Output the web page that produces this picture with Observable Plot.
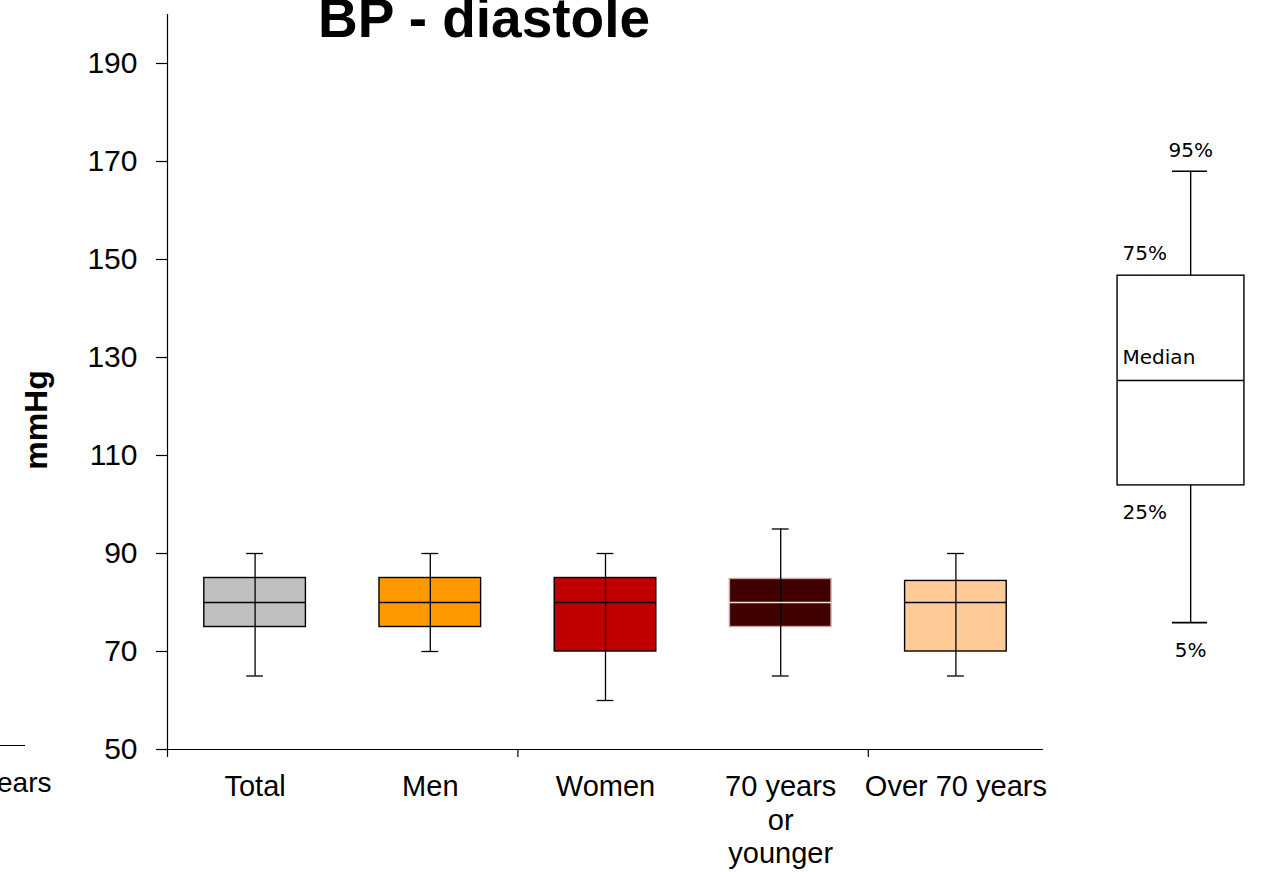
<!DOCTYPE html>
<html><head><meta charset="utf-8">
<script src="https://cdn.jsdelivr.net/npm/d3@7"></script>
<script src="https://cdn.jsdelivr.net/npm/@observablehq/plot@0.6"></script>
<style>
body{margin:0;background:#fff;}
#wrap{position:relative;width:1261px;height:872px;overflow:hidden;font-family:"Liberation Sans",Arial,sans-serif;color:#000;}
#wrap svg{position:absolute;top:0;}
#title{position:absolute;left:234px;width:500px;top:-9px;line-height:55px;text-align:center;font-weight:bold;font-size:55px;white-space:nowrap;}
#ylabel{position:absolute;left:36px;top:420px;font-size:32px;font-weight:bold;line-height:32px;white-space:nowrap;transform:translate(-50%,-50%) rotate(-90deg);}
#frag{position:absolute;left:-3px;top:767px;font-size:28px;line-height:32px;white-space:nowrap;}
#fragline{position:absolute;left:0;top:745px;width:25px;border-top:1px solid #000;}
</style></head><body><div id="wrap">
<div id="title">BP - diastole</div>
<div id="ylabel">mmHg</div>
<div id="frag">ears</div>
<div id="fragline"></div>
</div>
<script>
const categories = ["Total", "Men", "Women", "70 years\nor\nyounger", "Over 70 years"];
const p5 = [65, 70, 60, 65, 65];
const q1 = [75, 75, 70, 75, 70];
const median = [80, 80, 80, 80, 80];
const q3 = [85, 85, 85, 84.8, 84.4];
const p95 = [90, 90, 90, 95, 90];
const fills = ["#c0c0c0", "#ff9900", "#c00000", "#400000", "#ffcc99"];
const boxStrokes = ["#000", "#000", "#000", "#c8a4a4", "#000"];
const medianStrokes = ["#000", "#000", "#000", "#f2e2e2", "#000"];
const yTicks = [50, 70, 90, 110, 130, 150, 170, 190];
const xGroupTicks = [0, 2, 4];

// schematic legend box (in the same mmHg units as the chart)
const legendNames = ["5%", "25%", "Median", "75%", "95%"];
const legendValues = [75.9, 103.9, 125.3, 146.7, 168];

const rows = categories.map((c, i) => ({
  cat: c, pos: i + 0.5, p5: p5[i], q1: q1[i], median: median[i], q3: q3[i], p95: p95[i],
  fill: fills[i], stroke: boxStrokes[i], mstroke: medianStrokes[i]
}));

const BOX = 0.29, CAP = 0.048;

const main = Plot.plot({
  width: 1261, height: 872,
  marginLeft: 167, marginRight: 218, marginTop: 14, marginBottom: 123,
  x: {domain: [0, 5], axis: null, label: null},
  y: {domain: [50, 200], axis: null, label: null},
  style: {fontFamily: "'Liberation Sans', Arial, sans-serif", color: "#000", background: "transparent", overflow: "visible"},
  marks: [
    Plot.ruleX([0], {y1: 50, y2: 200, stroke: "#000", strokeWidth: 1.2}),
    Plot.ruleY([50], {x1: 0, x2: 5, stroke: "#000", strokeWidth: 1.2}),
    Plot.axisY(yTicks, {anchor: "left", label: null, tickSize: 11, tickPadding: 19, fontSize: 30, stroke: "#000", strokeOpacity: 1, strokeWidth: 1.2}),
    Plot.axisX(xGroupTicks, {anchor: "bottom", label: null, tickSize: 8, tickFormat: () => "", stroke: "#000", strokeOpacity: 1, strokeWidth: 1.2}),
    Plot.axisX(rows.map(d => d.pos), {anchor: "bottom", label: null, tickSize: 0, tickPadding: 22, fontSize: 29, lineHeight: 1.17,
      tickFormat: (d) => categories[Math.round(d - 0.5)]}),
    Plot.rect(rows, {x1: d => d.pos - BOX, x2: d => d.pos + BOX, y1: "q1", y2: "q3", fill: "fill", stroke: "stroke", strokeWidth: 1.4}),
    Plot.ruleX(rows, {x: "pos", y1: "p5", y2: "p95", stroke: "#000", strokeWidth: 1.3}),
    Plot.ruleY(rows, {y: "p95", x1: d => d.pos - CAP, x2: d => d.pos + CAP, stroke: "#000", strokeWidth: 1.3}),
    Plot.ruleY(rows, {y: "p5", x1: d => d.pos - CAP, x2: d => d.pos + CAP, stroke: "#000", strokeWidth: 1.3}),
    Plot.ruleY(rows, {y: "median", x1: d => d.pos - BOX, x2: d => d.pos + BOX, stroke: "mstroke", strokeWidth: 1.4})
  ]
});

const lg = Object.fromEntries(legendNames.map((n, i) => [n, legendValues[i]]));
const WX = 0.56, BL = 0.106, BR = 0.894, CL = 0.447, CR = 0.665, TX = 0.137;
const legend = Plot.plot({
  width: 161, height: 872,
  marginLeft: 0, marginRight: 0, marginTop: 14, marginBottom: 123,
  x: {domain: [0, 1], axis: null, label: null},
  y: {domain: [50, 200], axis: null, label: null},
  style: {fontFamily: "'DejaVu Sans', Verdana, sans-serif", color: "#000", background: "transparent", overflow: "visible"},
  marks: [
    Plot.ruleX([WX], {y1: lg["5%"], y2: lg["95%"], stroke: "#000", strokeWidth: 1.4}),
    Plot.rect([0], {x1: BL, x2: BR, y1: lg["25%"], y2: lg["75%"], fill: "#fff", stroke: "#000", strokeWidth: 1.4}),
    Plot.ruleY([lg["Median"]], {x1: BL, x2: BR, stroke: "#000", strokeWidth: 1.4}),
    Plot.ruleY([lg["95%"], lg["5%"]], {x1: CL, x2: CR, stroke: "#000", strokeWidth: 1.6}),
    Plot.text(["95%"], {x: WX, y: lg["95%"], text: d => d, dy: -21, fontSize: 20, textAnchor: "middle", lineAnchor: "middle"}),
    Plot.text(["5%"], {x: WX, y: lg["5%"], text: d => d, dy: 28, fontSize: 20, textAnchor: "middle", lineAnchor: "middle"}),
    Plot.text(["75%"], {x: TX, y: lg["75%"], text: d => d, dy: -22, fontSize: 20, textAnchor: "start", lineAnchor: "middle"}),
    Plot.text(["Median"], {x: TX, y: lg["Median"], text: d => d, dy: -23, fontSize: 20, textAnchor: "start", lineAnchor: "middle"}),
    Plot.text(["25%"], {x: TX, y: lg["25%"], text: d => d, dy: 27, fontSize: 20, textAnchor: "start", lineAnchor: "middle"})
  ]
});

const wrap = document.getElementById("wrap");
main.style.left = "0px";
legend.style.left = "1100px";
wrap.insertBefore(main, wrap.firstChild);
wrap.appendChild(legend);
</script>
</body></html>
